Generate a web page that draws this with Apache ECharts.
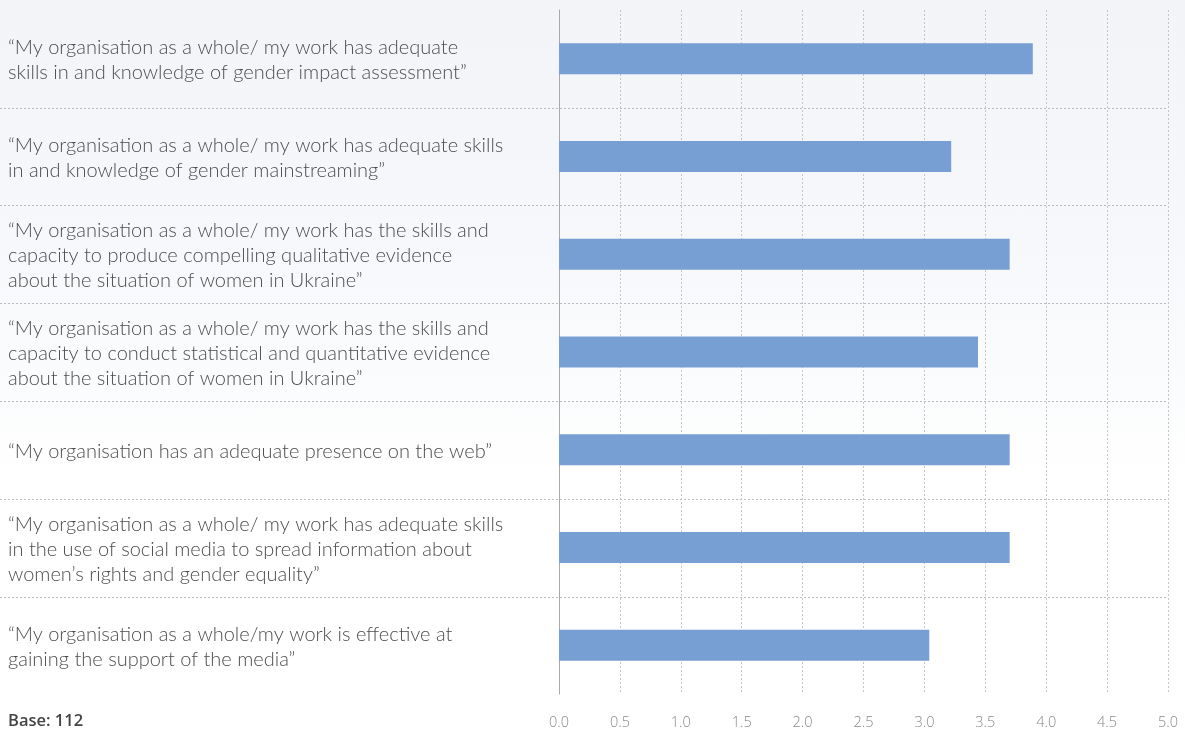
<!DOCTYPE html>
<html>
<head>
<meta charset="utf-8">
<script src="https://cdn.jsdelivr.net/npm/echarts@6/dist/echarts.min.js"></script>
<style>
  html, body { margin: 0; padding: 0; }
  #chart {
    width: 1185px; height: 730px;
    background: linear-gradient(to bottom, #f2f4f8 0px, #f6f8fb 250px, #ffffff 480px, #ffffff 730px);
  }
</style>
</head>
<body>
<div id="chart"></div>
<script>
// Survey statements (one per row, top to bottom)
const statements = [
  '“My organisation as a whole/ my work has adequate\nskills in and knowledge of gender impact assessment”',
  '“My organisation as a whole/ my work has adequate skills\nin and knowledge of gender mainstreaming”',
  '“My organisation as a whole/ my work has the skills and\ncapacity to produce compelling qualitative evidence\nabout the situation of women in Ukraine”',
  '“My organisation as a whole/ my work has the skills and\ncapacity to conduct statistical and quantitative evidence\nabout the situation of women in Ukraine”',
  '“My organisation has an adequate presence on the web”',
  '“My organisation as a whole/ my work has adequate skills\nin the use of social media to spread information about\nwomen’s rights and gender equality”',
  '“My organisation as a whole/my work is effective at\ngaining the support of the media”'
];

// Mean agreement score per statement
const scores = [3.89, 3.22, 3.70, 3.44, 3.70, 3.70, 3.04];

// Value axis ticks
const axisMin = 0;
const axisMax = 5;
const axisStep = 0.5;

const baseNote = 'Base: 112';

const FONT = 'Lato, "Noto Sans", sans-serif';
const FONT_B = '"Open Sans", "Noto Sans", sans-serif';
const chart = echarts.init(document.getElementById('chart'), null, { renderer: 'canvas' });

const rowIndex = statements.map((_, i) => i);

chart.setOption({
  backgroundColor: 'transparent',
  animation: false,
  textStyle: { fontFamily: FONT },
  title: {
    text: baseNote,
    left: 3,
    top: 708,
    textStyle: { fontFamily: FONT_B, fontSize: 16.5, fontWeight: 600, color: '#444' }
  },
  grid: [
    // bars
    { left: 559, right: 17, top: 10, bottom: 35, containLabel: false },
    // full-width row separators
    { left: 0, right: 17, top: 10, bottom: 35, containLabel: false },
    // statement labels
    { left: 559, right: 17, top: 11, bottom: 34, containLabel: false }
  ],
  xAxis: [
    {
      type: 'value', gridIndex: 0,
      min: axisMin, max: axisMax, interval: axisStep,
      axisLine: { show: false },
      axisTick: { show: false },
      axisLabel: {
        margin: 21,
        color: '#888',
        fontSize: 14.5,
        fontWeight: 300,
        fontFamily: FONT_B,
        formatter: v => v.toFixed(1)
      },
      splitLine: { show: true, lineStyle: { type: [2, 2], color: '#c4c6ca', width: 1 } }
    },
    { type: 'value', gridIndex: 1, show: false, min: 0, max: 1 },
    { type: 'value', gridIndex: 2, show: false, min: 0, max: 1 }
  ],
  yAxis: [
    {
      type: 'category', gridIndex: 0, inverse: true,
      data: statements,
      axisLine: { show: true, lineStyle: { color: '#a9a9a9', width: 1 } },
      axisTick: { show: false },
      splitLine: { show: false },
      axisLabel: { show: false }
    },
    {
      type: 'category', gridIndex: 1, inverse: true,
      data: rowIndex,
      axisLine: { show: false },
      axisTick: { show: false },
      axisLabel: { show: false },
      splitLine: {
        show: true, showMinLine: false, showMaxLine: false,
        lineStyle: { type: [2, 2], color: '#b9bbbf', width: 1 }
      }
    },
    {
      type: 'category', gridIndex: 2, inverse: true,
      data: statements,
      axisLine: { show: false },
      axisTick: { show: false },
      splitLine: { show: false },
      axisLabel: {
        align: 'left',
        margin: 551,
        color: '#4d4d4d',
        fontSize: 20,
        fontWeight: 300,
        fontFamily: FONT,
        lineHeight: 25
      }
    }
  ],
  series: [
    {
      type: 'bar',
      xAxisIndex: 0, yAxisIndex: 0,
      data: scores,
      barWidth: 31,
      itemStyle: { color: '#779fd3' },
      silent: true
    }
  ]
});
</script>
</body>
</html>
